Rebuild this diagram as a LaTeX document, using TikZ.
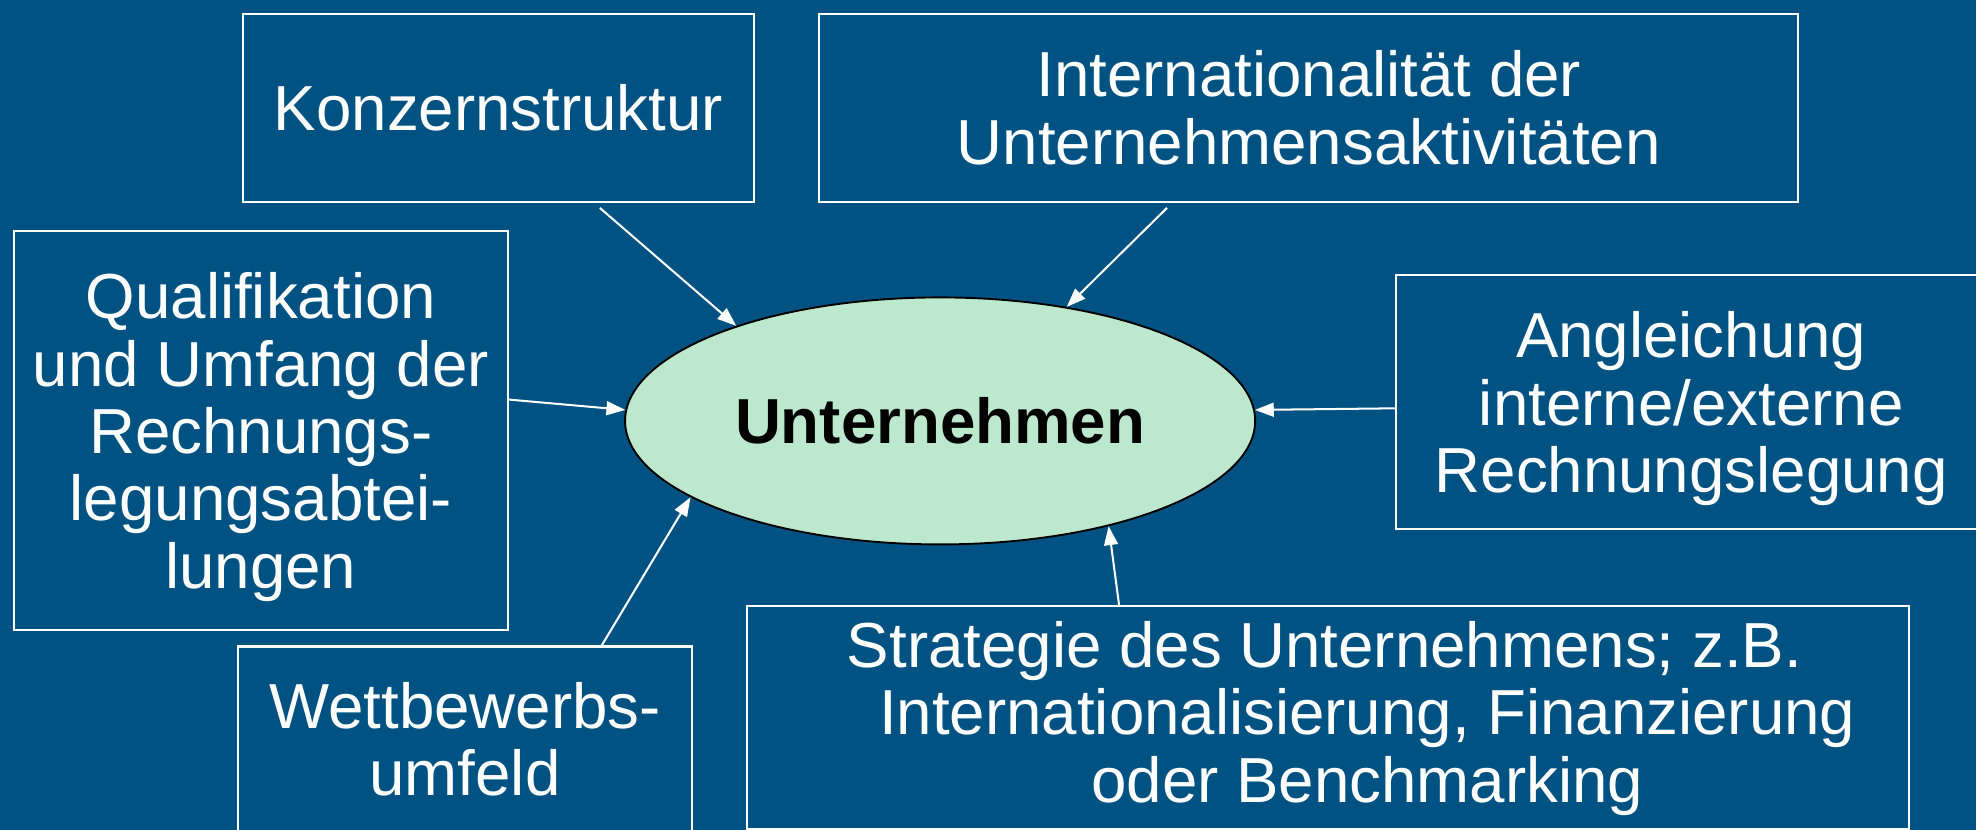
\documentclass[tikz,border=0pt]{standalone}
\usepackage{fontspec}
\setmainfont{Liberation Sans}
\usetikzlibrary{arrows.meta,shapes.geometric}
\definecolor{bgblue}{RGB}{0,82,130}
\definecolor{ellfill}{RGB}{188,233,206}
\begin{document}
\begin{tikzpicture}[x=1pt,y=-1pt,
  box/.style={draw=white, line width=1.6pt, text=white, align=center, inner sep=0pt,
    font=\fontsize{50.5}{53.5}\selectfont},
  txt/.style={text=white, align=center, inner sep=0pt, font=\fontsize{50.5}{53.5}\selectfont},
  conn/.style={draw=white, line width=1.6pt, -{Triangle[length=15pt,width=11pt,fill=white]}}]
\fill[bgblue] (0,0) rectangle (1568,658.6);
\useasboundingbox (0,0) rectangle (1568,658.6);

\node[box, minimum width=405pt, minimum height=149pt] (konz) at (395.5,85.5) {Konzernstruktur};
\node[box, minimum width=777pt, minimum height=149pt] (intl) at (1038.5,85.5) {Internationalität der\\Unternehmensaktivitäten};
\node[box, minimum width=392pt, minimum height=317pt] (qual) at (207,341.5) {Qualifikation\\und Umfang der\\Rechnungs-\\legungsabtei-\\\smash{lungen}};
\node[box, minimum width=468pt, minimum height=202pt] (angl) at (1342,319) {Angleichung\\interne/externe\\\smash{Rechnungslegung}};
\node[box, minimum width=360pt, minimum height=147pt] (wett) at (369,586.5) {Wettbewerbs-\\umfeld};
\node[box, minimum width=922pt, minimum height=177pt] (strat) at (1054,569.5) {};
\node[txt] (strattxt) at (1085,570) {Strategie des Unternehmens; z.B.\hspace*{68pt}\\Internationalisierung, Finanzierung\\oder Benchmarking};

\node[ellipse, draw=black, line width=1.5pt, fill=ellfill, minimum width=500pt, minimum height=196pt, inner sep=0pt,
  font=\fontsize{50.5}{53.5}\selectfont\bfseries] (ell) at (746,334) {Unternehmen};

\coordinate (ks) at (476,165);
\coordinate (is) at (926,165);
\coordinate (qs) at (403,317);
\coordinate (as) at (1108,324);
\coordinate (ws) at (477,513);
\coordinate (ss) at (888,480);

\draw[conn] (ks) -- (ell.155);
\draw[conn] (is) -- (ell.42);
\draw[conn] (qs) -- (ell.178);
\draw[conn] (as) -- (ell.2);
\draw[conn] (ws) -- (ell.197);
\draw[conn] (ss) -- (ell.328);
\end{tikzpicture}
\end{document}
